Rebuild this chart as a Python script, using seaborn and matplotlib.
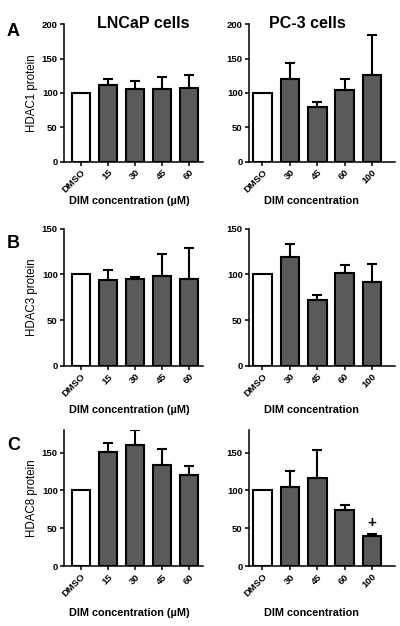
import matplotlib
matplotlib.use("Agg")
import matplotlib.pyplot as plt
import seaborn as sns

# ------------------------------------------------------------
# datos
# ------------------------------------------------------------
lncap_doses = ["DMSO", "15", "30", "45", "60"]
pc3_doses = ["DMSO", "30", "45", "60", "100"]

hdac1_lncap = [100, 112, 106, 106, 107]
hdac1_lncap_err = [0, 9, 12, 17, 19]
hdac1_pc3 = [100, 120, 80, 105, 126]
hdac1_pc3_err = [0, 23, 7, 16, 58]

hdac3_lncap = [100, 94, 95, 98, 95]
hdac3_lncap_err = [0, 11, 2, 24, 34]
hdac3_pc3 = [100, 119, 72, 101, 92]
hdac3_pc3_err = [0, 14, 5, 9, 19]

hdac8_lncap = [100, 151, 160, 134, 120]
hdac8_lncap_err = [0, 12, 20, 21, 13]
hdac8_pc3 = [100, 105, 116, 74, 40]
hdac8_pc3_err = [0, 21, 37, 7, 2]

row_labels = ["A", "B", "C"]
y_labels = ["HDAC1 protein", "HDAC3 protein", "HDAC8 protein"]
y_limits = [200, 150, 180]
y_ticks = [[0, 50, 100, 150, 200], [0, 50, 100, 150], [0, 50, 100, 150]]

sns.set_style("ticks")
plt.rcParams["font.family"] = ["Liberation Sans", "DejaVu Sans"]
plt.rcParams["text.color"] = "black"
plt.rcParams["axes.labelcolor"] = "black"
plt.rcParams["xtick.color"] = "black"
plt.rcParams["ytick.color"] = "black"
plt.rcParams["axes.edgecolor"] = "black"

DARK = "#5a5a5a"
fig = plt.figure(figsize=(4.0, 6.26), dpi=100)

# posiciones de los ejes (fraccion de figura)
rows_pos = [(0.7417, 0.2196), (0.4158, 0.2188), (0.0958, 0.2173)]
left_x = (0.16, 0.3475)
right_x = (0.6225, 0.365)

panels = [
    (hdac1_lncap, hdac1_lncap_err, hdac1_pc3, hdac1_pc3_err),
    (hdac3_lncap, hdac3_lncap_err, hdac3_pc3, hdac3_pc3_err),
    (hdac8_lncap, hdac8_lncap_err, hdac8_pc3, hdac8_pc3_err),
]
label_y_px = [201, 410, 613]
letter_y_px = [31, 244, 446]


def draw_bars(ax, cats, vals, errs, ymax, ticks, xlim):
    colors = ["white"] + [DARK] * (len(cats) - 1)
    sns.barplot(x=cats, y=vals, hue=cats, palette=colors, legend=False,
                order=cats, hue_order=cats, width=0.68, edgecolor="black",
                linewidth=1.5, ax=ax)
    xs = list(range(1, len(cats)))
    ax.errorbar(xs, vals[1:], yerr=[[0] * len(xs), errs[1:]], fmt="none",
                ecolor="black", elinewidth=1.5, capsize=3.6, capthick=1.5,
                zorder=1)
    ax.set_ylim(0, ymax)
    ax.set_xlim(*xlim)
    ax.set_yticks(ticks)
    ax.set_yticklabels([str(t) for t in ticks], fontsize=6.8, fontweight="bold")
    ax.set_xticks(range(len(cats)))
    ax.set_xticklabels(cats, fontsize=6.8, fontweight="bold", rotation=45,
                       ha="right", rotation_mode="anchor")
    for side in ["top", "right"]:
        ax.spines[side].set_visible(False)
    for side in ["left", "bottom"]:
        ax.spines[side].set_linewidth(1.1)
        ax.spines[side].set_color("black")
    ax.tick_params(axis="both", width=1.1, length=3, pad=1.5, colors="black")
    ax.set_ylabel("")


for i, (lv, le, pv, pe) in enumerate(panels):
    bottom, height = rows_pos[i]
    ax_l = fig.add_axes([left_x[0], bottom, left_x[1], height])
    ax_r = fig.add_axes([right_x[0], bottom, right_x[1], height])

    draw_bars(ax_l, lncap_doses, lv, le, y_limits[i], y_ticks[i], (-0.63, 4.52))
    draw_bars(ax_r, pc3_doses, pv, pe, y_limits[i], y_ticks[i], (-0.49, 4.84))

    ax_l.set_ylabel(y_labels[i], fontsize=8.3, labelpad=4)
    ax_l.yaxis.set_label_coords(-0.19, 0.5)

    fig.text(129 / 400, 1 - label_y_px[i] / 626, "DIM concentration (\u00b5M)",
             ha="center", va="center", fontsize=7.8, fontweight="bold")
    fig.text(311 / 400, 1 - label_y_px[i] / 626, "DIM concentration",
             ha="center", va="center", fontsize=7.8, fontweight="bold")

    fig.text(13.5 / 400, 1 - letter_y_px[i] / 626, row_labels[i],
             ha="center", va="center", fontsize=13, fontweight="bold")

    if i == 2:
        ax_r.text(4, 57, "+", ha="center", va="center", fontsize=11,
                  fontweight="bold")

fig.text(143 / 400, 1 - 23 / 626, "LNCaP cells", ha="center", va="center",
         fontsize=11.5, fontweight="bold")
fig.text(307.7 / 400, 1 - 23 / 626, "PC-3 cells", ha="center", va="center",
         fontsize=11.5, fontweight="bold")

fig.savefig("out.png", dpi=100)
plt.close(fig)
